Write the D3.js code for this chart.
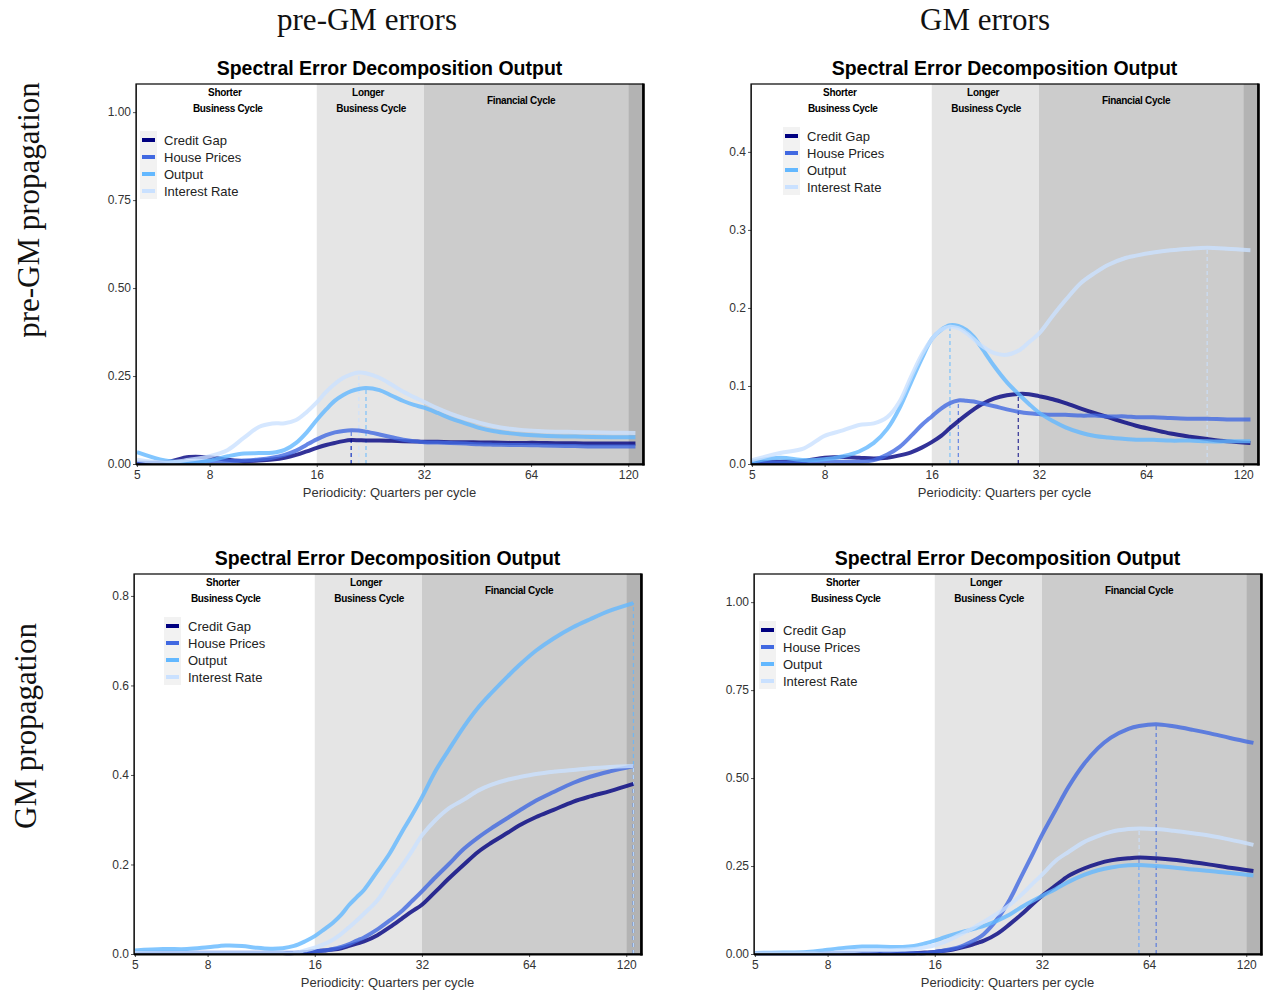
<!DOCTYPE html>
<html>
<head>
<meta charset="utf-8">
<script src="https://cdn.jsdelivr.net/npm/d3@7"></script>
<style>
  body { margin: 0; background: #fff; }
  svg { display: block; }
</style>
</head>
<body>
<div id="chart"></div>
<script>
// Periodicity grid (quarters per cycle), shared by all panels
const periods = [5, 6, 7, 8, 9, 10, 11, 12, 13, 14, 15, 16, 17, 18, 19, 20, 21, 22, 24, 26, 28, 30, 32,
                 35, 38, 42, 46, 50, 56, 60, 67, 75, 85, 95, 108, 125.7];

const seriesNames = ["Credit Gap", "House Prices", "Output", "Interest Rate"];
const xTickValues = [5, 8, 16, 32, 64, 120];
const bandEdges = [16, 32, 120];
const bandLabels = [["Shorter", "Business Cycle"], ["Longer", "Business Cycle"], ["Financial Cycle"]];
const columnHeaders = ["pre-GM errors", "GM errors"];
const rowHeaders = ["pre-GM propagation", "GM propagation"];
const chartTitle = "Spectral Error Decomposition Output";
const xAxisTitle = "Periodicity: Quarters per cycle";

// top-left: pre-GM errors, pre-GM propagation
const tlCredit   = [0.003, 0.005, 0.02, 0.019, 0.012, 0.008, 0.01, 0.013, 0.018, 0.026, 0.036, 0.046, 0.054, 0.06, 0.065, 0.068, 0.0675, 0.067, 0.067, 0.066, 0.065, 0.064, 0.063, 0.063, 0.062, 0.062, 0.061, 0.061, 0.06, 0.06, 0.06, 0.059, 0.059, 0.058, 0.058, 0.058];
const tlHouse    = [0.004, 0.004, 0.006, 0.008, 0.008, 0.01, 0.013, 0.018, 0.026, 0.038, 0.055, 0.07, 0.082, 0.09, 0.094, 0.096, 0.095, 0.092, 0.084, 0.076, 0.069, 0.065, 0.062, 0.061, 0.06, 0.058, 0.056, 0.055, 0.054, 0.054, 0.053, 0.052, 0.051, 0.05, 0.05, 0.05];
const tlOutput   = [0.034, 0.01, 0.005, 0.01, 0.022, 0.03, 0.031, 0.032, 0.04, 0.06, 0.09, 0.125, 0.155, 0.18, 0.196, 0.207, 0.213, 0.216, 0.21, 0.194, 0.179, 0.168, 0.16, 0.145, 0.13, 0.115, 0.102, 0.094, 0.087, 0.084, 0.081, 0.079, 0.078, 0.077, 0.076, 0.076];
const tlInterest = [0.012, 0.004, 0.012, 0.022, 0.04, 0.075, 0.105, 0.115, 0.116, 0.125, 0.148, 0.175, 0.205, 0.228, 0.245, 0.255, 0.26, 0.258, 0.245, 0.225, 0.205, 0.19, 0.177, 0.158, 0.143, 0.128, 0.117, 0.108, 0.1, 0.097, 0.094, 0.092, 0.091, 0.09, 0.089, 0.088];
const tlYTicks = [0, 0.25, 0.5, 0.75, 1.0];

// top-right: GM errors, pre-GM propagation
const trCredit   = [0.002, 0.003, 0.004, 0.008, 0.009, 0.008, 0.007, 0.008, 0.011, 0.015, 0.021, 0.028, 0.036, 0.046, 0.055, 0.063, 0.07, 0.076, 0.084, 0.088, 0.0898, 0.0895, 0.087, 0.083, 0.078, 0.071, 0.065, 0.06, 0.053, 0.049, 0.044, 0.039, 0.035, 0.032, 0.029, 0.027];
const trHouse    = [0.002, 0.002, 0.002, 0.003, 0.003, 0.003, 0.005, 0.012, 0.022, 0.036, 0.05, 0.061, 0.071, 0.078, 0.0815, 0.081, 0.08, 0.078, 0.074, 0.07, 0.067, 0.065, 0.064, 0.063, 0.063, 0.062, 0.062, 0.061, 0.061, 0.06, 0.06, 0.059, 0.058, 0.058, 0.057, 0.057];
const trOutput   = [0.003, 0.008, 0.005, 0.006, 0.01, 0.016, 0.027, 0.045, 0.072, 0.105, 0.135, 0.16, 0.172, 0.178, 0.177, 0.172, 0.163, 0.15, 0.125, 0.105, 0.09, 0.077, 0.066, 0.055, 0.047, 0.04, 0.036, 0.034, 0.032, 0.031, 0.031, 0.03, 0.03, 0.029, 0.029, 0.029];
const trInterest = [0.005, 0.014, 0.02, 0.036, 0.043, 0.05, 0.052, 0.06, 0.08, 0.112, 0.14, 0.16, 0.172, 0.176, 0.174, 0.168, 0.16, 0.152, 0.142, 0.14, 0.145, 0.156, 0.167, 0.19, 0.21, 0.232, 0.245, 0.255, 0.264, 0.267, 0.271, 0.274, 0.276, 0.277, 0.276, 0.274];
const trYTicks = [0, 0.1, 0.2, 0.3, 0.4];

// bottom-left: pre-GM errors, GM propagation
const blCredit   = [0.002, 0.002, 0.002, 0.002, 0.002, 0.002, 0.002, 0.002, 0.002, 0.002, 0.004, 0.006, 0.008, 0.01, 0.013, 0.018, 0.023, 0.028, 0.042, 0.06, 0.078, 0.095, 0.11, 0.14, 0.168, 0.2, 0.228, 0.248, 0.272, 0.287, 0.306, 0.322, 0.34, 0.352, 0.364, 0.38];
const blHouse    = [0.003, 0.003, 0.003, 0.003, 0.003, 0.003, 0.003, 0.003, 0.003, 0.003, 0.004, 0.006, 0.008, 0.011, 0.016, 0.022, 0.03, 0.037, 0.055, 0.075, 0.095, 0.118, 0.14, 0.172, 0.2, 0.235, 0.26, 0.28, 0.305, 0.32, 0.343, 0.362, 0.382, 0.396, 0.408, 0.42];
const blOutput   = [0.008, 0.011, 0.011, 0.015, 0.019, 0.018, 0.014, 0.012, 0.013, 0.018, 0.028, 0.04, 0.055, 0.07, 0.088, 0.11, 0.127, 0.143, 0.185, 0.225, 0.27, 0.31, 0.35, 0.41, 0.455, 0.508, 0.55, 0.582, 0.622, 0.645, 0.678, 0.705, 0.73, 0.748, 0.767, 0.784];
const blInterest = [0.002, 0.002, 0.002, 0.002, 0.002, 0.002, 0.002, 0.002, 0.002, 0.002, 0.008, 0.014, 0.022, 0.032, 0.045, 0.06, 0.075, 0.09, 0.12, 0.16, 0.195, 0.23, 0.265, 0.3, 0.325, 0.345, 0.365, 0.378, 0.39, 0.395, 0.402, 0.407, 0.411, 0.415, 0.418, 0.42];
const blYTicks = [0, 0.2, 0.4, 0.6, 0.8];

// bottom-right: GM errors, GM propagation
const brCredit   = [0.002, 0.002, 0.002, 0.002, 0.002, 0.002, 0.002, 0.002, 0.002, 0.002, 0.004, 0.006, 0.009, 0.013, 0.018, 0.024, 0.031, 0.038, 0.058, 0.085, 0.112, 0.14, 0.165, 0.195, 0.222, 0.243, 0.257, 0.266, 0.272, 0.274, 0.272, 0.268, 0.261, 0.254, 0.245, 0.236];
const brHouse    = [0.002, 0.002, 0.002, 0.002, 0.002, 0.002, 0.002, 0.002, 0.002, 0.002, 0.002, 0.006, 0.01, 0.015, 0.022, 0.032, 0.043, 0.057, 0.1, 0.155, 0.22, 0.28, 0.338, 0.41, 0.475, 0.54, 0.585, 0.615, 0.64, 0.648, 0.653, 0.647, 0.637, 0.627, 0.614, 0.6];
const brOutput   = [0.003, 0.004, 0.006, 0.012, 0.018, 0.021, 0.021, 0.02, 0.02, 0.023, 0.03, 0.038, 0.047, 0.055, 0.062, 0.068, 0.074, 0.08, 0.095, 0.112, 0.133, 0.15, 0.165, 0.185, 0.205, 0.225, 0.238, 0.246, 0.252, 0.253, 0.25, 0.246, 0.24, 0.236, 0.23, 0.223];
const brInterest = [0.002, 0.002, 0.002, 0.002, 0.007, 0.01, 0.011, 0.011, 0.012, 0.014, 0.019, 0.025, 0.034, 0.045, 0.057, 0.068, 0.08, 0.092, 0.115, 0.14, 0.168, 0.198, 0.225, 0.265, 0.29, 0.318, 0.335, 0.347, 0.355, 0.357, 0.355, 0.35, 0.343, 0.336, 0.325, 0.31];
const brYTicks = [0, 0.25, 0.5, 0.75, 1.0];

// ---- styling / layout ----
const colors = ["#000080", "#4169E1", "#63B8FF", "#CAE1FF"];
const bandFills = ["#FFFFFF", "#E5E5E5", "#CCCCCC", "#B3B3B3"];
const sans = "'Liberation Sans', Arial, sans-serif";
const serif = "'Liberation Serif', 'Times New Roman', serif";

const panels = [
  { series: [tlCredit, tlHouse, tlOutput, tlInterest], yTicks: tlYTicks, yMax: 1.08, fmt: ".2f",
    left: 136, top: 84, legendDx: 6, legendDy: 56 },
  { series: [trCredit, trHouse, trOutput, trInterest], yTicks: trYTicks, yMax: 0.487, fmt: ".1f",
    left: 751, top: 84, legendDx: 34, legendDy: 52 },
  { series: [blCredit, blHouse, blOutput, blInterest], yTicks: blYTicks, yMax: 0.849, fmt: ".1f",
    left: 134, top: 574, legendDx: 32, legendDy: 52 },
  { series: [brCredit, brHouse, brOutput, brInterest], yTicks: brYTicks, yMax: 1.08, fmt: ".2f",
    left: 754, top: 574, legendDx: 7, legendDy: 56 }
];
const plotW = 507, plotH = 380;
const xDomain = [4.97, 132];
const labelPeriods = [8.94, 22.6, 60];

const svg = d3.select("#chart")
    .append("svg")
    .attr("width", 1267)
    .attr("height", 992)
    .style("background", "#fff");

// Column and row headers
svg.selectAll(".colhead")
    .data(columnHeaders)
    .enter()
    .append("text")
    .attr("x", (d, i) => [367, 985][i])
    .attr("y", 30)
    .attr("text-anchor", "middle")
    .style("font-family", serif)
    .style("font-size", "31px")
    .style("fill", "#111")
    .text(d => d);

svg.selectAll(".rowhead")
    .data(rowHeaders)
    .enter()
    .append("text")
    .attr("transform", (d, i) => `translate(${[39, 36][i]},${[210, 726][i]}) rotate(-90)`)
    .attr("text-anchor", "middle")
    .style("font-family", serif)
    .style("font-size", "31px")
    .style("fill", "#111")
    .text(d => d);

panels.forEach(p => {
    const g = svg.append("g");
    const right = p.left + plotW, bottom = p.top + plotH;

    const x = d3.scaleLog().domain(xDomain).range([p.left, right]);
    const y = d3.scaleLinear().domain([0, p.yMax]).range([bottom, p.top]);

    // background bands
    const edges = [xDomain[0], ...bandEdges, xDomain[1]];
    g.selectAll(".band")
        .data(d3.range(edges.length - 1))
        .enter()
        .append("rect")
        .attr("x", i => x(edges[i]))
        .attr("y", p.top)
        .attr("width", i => x(edges[i + 1]) - x(edges[i]))
        .attr("height", plotH)
        .attr("fill", i => bandFills[i]);

    // band labels
    bandLabels.forEach((lines, i) => {
        const t = g.append("text")
            .attr("text-anchor", "middle")
            .style("font-family", sans)
            .style("font-size", "10px")
            .style("font-weight", "bold")
            .style("letter-spacing", "-0.3px")
            .style("fill", "#000");
        if (lines.length === 2) {
            t.append("tspan").attr("x", x(labelPeriods[i]) - 2).attr("y", p.top + 12).text(lines[0]);
            t.append("tspan").attr("x", x(labelPeriods[i]) + 1).attr("y", p.top + 28).text(lines[1]);
        } else {
            t.append("tspan").attr("x", x(labelPeriods[i])).attr("y", p.top + 20).text(lines[0]);
        }
    });

    // dashed peak markers
    p.series.forEach((vals, k) => {
        const i = d3.maxIndex(vals);
        g.append("line")
            .attr("x1", x(periods[i])).attr("x2", x(periods[i]))
            .attr("y1", y(0)).attr("y2", y(vals[i]))
            .attr("stroke", colors[k])
            .attr("stroke-opacity", 0.8)
            .attr("stroke-width", 1.2)
            .attr("stroke-dasharray", "4,3");
    });

    // lines
    const line = d3.line()
        .x((d, i) => x(periods[i]))
        .y(d => y(d))
        .curve(d3.curveCatmullRom.alpha(0.5));

    g.selectAll(".series")
        .data(p.series)
        .enter()
        .append("path")
        .attr("d", line)
        .attr("fill", "none")
        .attr("stroke", (d, k) => colors[k])
        .attr("stroke-opacity", 0.8)
        .attr("stroke-width", 4)
        .attr("stroke-linejoin", "round");

    // legend
    const lx = p.left + p.legendDx, ly = p.top + p.legendDy;
    g.append("rect")
        .attr("x", lx - 2).attr("y", ly - 9)
        .attr("width", 17).attr("height", 68)
        .attr("fill", "#F2F2F2");
    seriesNames.forEach((name, k) => {
        g.append("line")
            .attr("x1", lx).attr("x2", lx + 13)
            .attr("y1", ly + k * 17).attr("y2", ly + k * 17)
            .attr("stroke", colors[k])
            .attr("stroke-width", 4);
        g.append("text")
            .attr("x", lx + 22)
            .attr("y", ly + k * 17 + 4.5)
            .style("font-family", sans)
            .style("font-size", "13px")
            .style("fill", "#222")
            .text(name);
    });

    // axes
    const yAxis = g.append("g")
        .attr("transform", `translate(${p.left},0)`)
        .call(d3.axisLeft(y).tickValues(p.yTicks).tickFormat(d3.format(p.fmt)).tickSize(3).tickSizeOuter(0).tickPadding(2));
    const xAxis = g.append("g")
        .attr("transform", `translate(0,${bottom})`)
        .call(d3.axisBottom(x).tickValues(xTickValues).tickFormat(d3.format("d")).tickSize(3).tickSizeOuter(0).tickPadding(3));
    [yAxis, xAxis].forEach(a => {
        a.selectAll("text").style("font-family", sans).style("font-size", "12px").style("fill", "#333");
        a.selectAll("line").attr("stroke", "#555");
        a.select(".domain").attr("stroke", "#555");
    });

    // border
    g.append("rect")
        .attr("x", p.left).attr("y", p.top)
        .attr("width", plotW).attr("height", plotH)
        .attr("fill", "none")
        .attr("stroke", "#000")
        .attr("stroke-width", 1.2);
    g.append("line")
        .attr("x1", p.left).attr("x2", right + 1.5)
        .attr("y1", bottom + 0.5).attr("y2", bottom + 0.5)
        .attr("stroke", "#000").attr("stroke-width", 2);
    g.append("line")
        .attr("x1", right + 0.5).attr("x2", right + 0.5)
        .attr("y1", p.top - 0.6).attr("y2", bottom + 1.5)
        .attr("stroke", "#000").attr("stroke-width", 2.6);

    // titles
    g.append("text")
        .attr("x", p.left + plotW / 2)
        .attr("y", p.top - 9)
        .attr("text-anchor", "middle")
        .style("font-family", sans)
        .style("font-size", "19.5px")
        .style("font-weight", "bold")
        .style("fill", "#000")
        .text(chartTitle);
    g.append("text")
        .attr("x", p.left + plotW / 2)
        .attr("y", bottom + 33)
        .attr("text-anchor", "middle")
        .style("font-family", sans)
        .style("font-size", "13px")
        .style("fill", "#333")
        .text(xAxisTitle);
});
</script>
</body>
</html>
